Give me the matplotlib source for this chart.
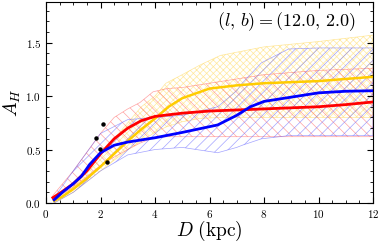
import numpy as np
import matplotlib
matplotlib.use("Agg")
import matplotlib.pyplot as plt
from matplotlib.ticker import MultipleLocator, FormatStrFormatter

plt.rcParams['mathtext.fontset'] = 'cm'
plt.rcParams['font.family'] = 'serif'
plt.rcParams['font.serif'] = ['cmr10', 'DejaVu Serif']
plt.rcParams['hatch.linewidth'] = 0.5

# median extinction curves
d_red = [0.25, 0.5, 1.0, 1.5, 2.0, 2.5, 3.0, 3.5, 4.0, 5.0, 6.0, 7.0, 8.0, 9.0, 10.0, 11.0, 12.0]
a_red = [0.05, 0.09, 0.18, 0.30, 0.46, 0.60, 0.70, 0.77, 0.81, 0.84, 0.86, 0.87, 0.88, 0.89, 0.90, 0.92, 0.945]

d_blue = [0.3, 0.6, 1.0, 1.3, 1.6, 2.0, 2.5, 3.0, 4.0, 5.0, 6.3, 7.0, 7.5, 8.0, 9.0, 10.0, 11.0, 12.0]
a_blue = [0.03, 0.10, 0.18, 0.25, 0.36, 0.47, 0.54, 0.57, 0.61, 0.66, 0.73, 0.82, 0.90, 0.95, 0.99, 1.03, 1.045, 1.05]

d_gold = [0.3, 0.6, 1.0, 1.5, 2.0, 2.5, 3.0, 3.5, 4.0, 4.5, 5.0, 6.0, 7.0, 8.0, 9.0, 10.0, 11.0, 12.0]
a_gold = [0.02, 0.06, 0.13, 0.23, 0.34, 0.46, 0.58, 0.69, 0.79, 0.90, 0.98, 1.07, 1.10, 1.12, 1.13, 1.14, 1.16, 1.18]

# uncertainty bands
d_red_band = [0.25, 1.0, 2.0, 2.5, 3.0, 3.45, 3.93, 4.44, 5.0, 6.0, 8.0, 10.0, 12.0]
lo_red = [0.03, 0.15, 0.35, 0.43, 0.50, 0.56, 0.61, 0.62, 0.62, 0.62, 0.62, 0.62, 0.62]
hi_red = [0.07, 0.30, 0.65, 0.80, 0.88, 0.94, 1.04, 1.07, 1.08, 1.12, 1.20, 1.24, 1.26]

d_blue_band = [0.3, 1.0, 2.0, 3.0, 4.0, 5.0, 6.3, 7.0, 7.2, 7.9, 8.9, 10.0, 12.0]
lo_blue = [0.0, 0.10, 0.30, 0.45, 0.50, 0.52, 0.47, 0.52, 0.54, 0.60, 0.63, 0.63, 0.63]
hi_blue = [0.05, 0.30, 0.65, 0.78, 0.80, 0.82, 0.90, 1.05, 1.12, 1.31, 1.44, 1.45, 1.45]

d_gold_band = [0.3, 1.0, 2.0, 3.0, 3.5, 4.0, 4.4, 5.0, 5.65, 6.4, 8.0, 10.0, 12.0]
lo_gold = [0.0, 0.10, 0.30, 0.50, 0.58, 0.66, 0.71, 0.76, 0.79, 0.80, 0.80, 0.80, 0.80]
hi_gold = [0.03, 0.15, 0.45, 0.75, 0.90, 1.00, 1.12, 1.20, 1.29, 1.38, 1.46, 1.51, 1.57]

# individual stars
d_stars = [1.83, 1.99, 2.10, 2.25]
a_stars = [0.605, 0.505, 0.74, 0.38]

fig = plt.figure(figsize=(3.78, 2.44), dpi=100)
ax = fig.add_axes([0.1217, 0.168, 0.8651, 0.824])

ax.fill_between(d_gold_band, lo_gold, hi_gold, facecolor='none',
                edgecolor=(1.0, 0.84, 0.3, 0.55), hatch='xxxxx', linewidth=0.5)
ax.fill_between(d_red_band, lo_red, hi_red, facecolor='none',
                edgecolor=(1.0, 0.35, 0.35, 0.55), hatch='\\\\\\', linewidth=0.5)
ax.fill_between(d_blue_band, lo_blue, hi_blue, facecolor='none',
                edgecolor=(0.35, 0.35, 1.0, 0.55), hatch='///', linewidth=0.5)

ax.plot(d_gold, a_gold, color='#ffcc00', lw=1.8)
ax.plot(d_red, a_red, color='#ff0000', lw=2)
ax.plot(d_blue, a_blue, color='#0000ff', lw=2)
ax.plot(d_stars, a_stars, 'o', color='k', ms=2.2)

ax.set_xlim(0, 12)
ax.set_ylim(0, 1.88)
ax.xaxis.set_major_locator(MultipleLocator(2))
ax.xaxis.set_minor_locator(MultipleLocator(0.5))
ax.yaxis.set_major_locator(MultipleLocator(0.5))
ax.yaxis.set_minor_locator(MultipleLocator(0.1))
ax.xaxis.set_major_formatter(FormatStrFormatter(r'$%d$'))
ax.yaxis.set_major_formatter(FormatStrFormatter(r'$%.1f$'))
ax.tick_params(which='both', direction='in', top=True, right=True, labelsize=8)
ax.tick_params(which='major', length=4)
ax.tick_params(which='minor', length=2)

ax.set_xlabel(r'$D\ (\mathrm{kpc})$', fontsize=14, labelpad=-1)
ax.set_ylabel(r'$A_H$', fontsize=14, labelpad=2)
ax.text(0.945, 0.96, r'$(l,\,b) = (12.0,\,2.0)$', transform=ax.transAxes,
        ha='right', va='top', fontsize=13)

fig.savefig('out.png', dpi=100)
